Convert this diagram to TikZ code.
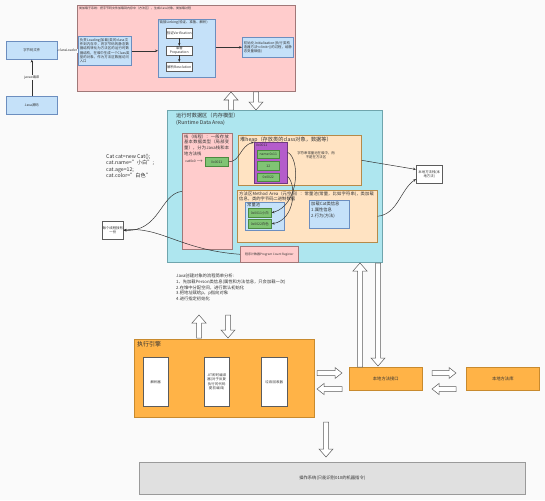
\documentclass[tikz,border=0pt]{standalone}
\usepackage{fontspec}
\setmainfont{Noto Sans CJK SC}
\XeTeXlinebreaklocale "zh"
\XeTeXlinebreakskip=0pt plus 1pt
\usetikzlibrary{arrows.meta}
\definecolor{bgc}{HTML}{FAFAFA}
\definecolor{pinkf}{HTML}{FFCCCC}
\definecolor{pinkd}{HTML}{A07878}
\definecolor{bluef}{HTML}{C5E1F9}
\definecolor{blued}{HTML}{6C8EBF}
\definecolor{cyanf}{HTML}{AEE6EF}
\definecolor{cyand}{HTML}{6FA5AD}
\definecolor{peachf}{HTML}{FFE3C2}
\definecolor{peachd}{HTML}{B58A4A}
\definecolor{purf}{HTML}{B45CCB}
\definecolor{purd}{HTML}{6E3A80}
\definecolor{grnf}{HTML}{80C474}
\definecolor{grnd}{HTML}{4C8A40}
\definecolor{orgf}{HTML}{FFB347}
\definecolor{orgd}{HTML}{C88A2E}
\definecolor{grayf}{HTML}{E0E0E0}
\definecolor{grayd}{HTML}{9A9A9A}
\definecolor{txt}{HTML}{333333}
\newcommand\bx[6]{\node[#1, anchor=north west, inner sep=0pt, minimum width={(#4-#2)*1pt}, minimum height={(#5-#3)*1pt}] (#6) at (#2,#3) {};}
\newcommand\hollowv[3]{\draw[hol] ({#1-2.5},#2) -- ({#1-2.5},{#3-8*sign(#3-#2)}) -- ({#1-7},{#3-8*sign(#3-#2)}) -- (#1,#3) -- ({#1+7},{#3-8*sign(#3-#2)}) -- ({#1+2.5},{#3-8*sign(#3-#2)}) -- ({#1+2.5},#2) -- cycle;}
\newcommand\hollowh[3]{\draw[hol] (#2,{#1-2.5}) -- ({#3-7*sign(#3-#2)},{#1-2.5}) -- ({#3-7*sign(#3-#2)},{#1-5.5}) -- (#3,#1) -- ({#3-7*sign(#3-#2)},{#1+5.5}) -- ({#3-7*sign(#3-#2)},{#1+2.5}) -- (#2,{#1+2.5}) -- cycle;}
\begin{document}
\begin{tikzpicture}[x=1pt,y=-1pt,
  pinkbox/.style={draw=pinkd, fill=pinkf, line width=0.6pt},
  bluebox/.style={draw=blued, fill=bluef, line width=0.6pt},
  whitebox/.style={draw=txt!80, fill=white, line width=0.5pt},
  cyanbox/.style={draw=cyand, fill=cyanf, line width=0.6pt},
  peachbox/.style={draw=peachd, fill=peachf, line width=0.6pt},
  purbox/.style={draw=purd, fill=purf, line width=0.6pt},
  grnbox/.style={draw=grnd, fill=grnf, line width=0.6pt},
  orgbox/.style={draw=orgd, fill=orgf, line width=0.6pt},
  graybox/.style={draw=grayd, fill=grayf, line width=0.6pt},
  hol/.style={draw=txt!80, fill=white, line width=0.5pt},
  conn/.style={draw=txt, line width=0.5pt, -{Stealth[length=3pt,width=2.4pt]}},
  tA/.style={text=txt, inner sep=0pt, font=\fontsize{3.4}{4.3}\selectfont},
  tB/.style={text=txt, inner sep=0pt, font=\fontsize{4.3}{5.6}\selectfont},
  tC/.style={text=txt, inner sep=0pt, font=\fontsize{5.2}{6.4}\selectfont},
  tD/.style={text=txt, inner sep=0pt, font=\fontsize{6}{7.2}\selectfont},
]
\fill[bgc] (0,0) rectangle (545,500);
\useasboundingbox (0,0) rectangle (545,500);

% ---------- class loader subsystem ----------
\bx{bluebox}{6}{41}{57}{59}{bytecode}
\node[tA] at (bytecode.center) {字节码文件};
\bx{bluebox}{6}{96}{57}{114}{javasrc}
\node[tA] at (javasrc.center) {Java源码};
\draw[conn] (javasrc.north) -- node[fill=bgc, tA, inner sep=0.6pt] (lbljavac) {javac编译} (bytecode.south);

\bx{pinkbox}{77}{5}{295}{91}{loader}
\node[tA, anchor=north west, font=\fontsize{3}{4}\selectfont] (loadertitle) at (79,6.5) {类加载子系统：把字节码文件加载到内存中（方法区），生成class对象，类加载过程};

\bx{bluebox}{78}{36}{131}{65}{loadbox}
\node[tA, text width=50pt, align=left] at (loadbox.center) {负责Loading(加载)类的class文件到内存中，将字节码的静态数据结构转化为方法区的运行时数据结构，在堆中生成一个Class类型的对象，作为方法区数据访问入口};
\draw[conn] (bytecode.east) -- node[fill=bgc, tA, inner sep=0.6pt] (lblcl) {classLoader} (loadbox.west);

\bx{bluebox}{158}{19}{215}{77}{linkbox}
\node[tA, anchor=north west, text width=54pt, align=left] at (159.5,20.5) {链接Linking(验证、准备、解析)};
\bx{whitebox}{166}{28}{192}{38}{verify}
\node[tA] at (verify.center) {验证Verification};
\bx{whitebox}{166}{46}{192}{55}{prepare}
\node[tA, align=center] at (prepare.center) {准备\\Preparation};
\bx{whitebox}{166}{62}{192}{71}{resolve}
\node[tA] at (resolve.center) {解析Resolution};
\draw[conn] (verify.south) -- (prepare.north);
\draw[conn] (prepare.south) -- (resolve.north);
\draw[conn] (loadbox.east) -- (linkbox.west |- loadbox.east);

\bx{bluebox}{242}{37}{293}{57}{initbox}
\node[tA, text width=48pt, align=left] at (initbox.center) {初始化Initialization(执行类构造器方法<clinit>()的过程，给静态变量赋值)};
\draw[conn] (linkbox.east |- initbox.west) -- (initbox.west);

\hollowv{231}{110}{92}
\hollowv{256}{92}{110}

% ---------- runtime data area ----------
\bx{cyanbox}{167}{110}{382}{262}{runtime}
\node[tC, anchor=north west, align=left] at (176,113) {运行时数据区（内存模型）\\(Runtime Data Area)};

\bx{pinkbox}{182}{133}{232}{249}{stack}
\node[tB, anchor=north west, text width=47pt, align=left] at (184,134.5) {栈（线程）：一般存放基本数据类型（局部变量），分为Java栈和本地方法栈};
\bx{grnbox}{205}{157}{228}{166}{catnode}
\node[tA] at (catnode.center) {0x0011};
\node[tA, anchor=east] (catlbl) at (203.5,161.5) {cat0x0 $\to$};

\bx{peachbox}{238}{135}{361}{185}{heap}
\node[tC, anchor=north west] at (240,136.5) {堆heap（存放类的class对象，数据等）};
\bx{purbox}{254}{142}{287}{183}{purple}
\node[tA, anchor=north west] at (256,143.5) {0x0011};
\bx{grnbox}{257}{150}{279}{158}{g1}
\node[tA] at (g1.center) {name:0x11};
\bx{grnbox}{257}{161}{279}{170}{g2}
\node[tA] at (g2.center) {12};
\bx{grnbox}{257}{173}{279}{181}{g3}
\node[tA] at (g3.center) {0x0022};
\node[tA, align=center] at (316,155) {字符串常量池在堆中，而\\不是在方法区};

\bx{peachbox}{237}{190}{377}{242}{method}
\node[tB, anchor=north west, text width=136pt, align=left] at (239,191.5) {方法区Method Area（元空间）：常量池(常量，比如字符串)，类加载信息，类的字节码二进制数据};
\bx{bluebox}{245}{202}{284}{230}{cpool}
\node[tB, anchor=north west] at (247,203) {常量池};
\bx{grnbox}{248}{208}{271}{217}{mg1}
\node[tA] at (mg1.center) {0x0011小白};
\bx{grnbox}{248}{219}{271}{228}{mg2}
\node[tA] at (mg2.center) {0x0022白色};
\bx{bluebox}{309}{200}{349}{228}{catinfo}
\node[tB, anchor=north west, align=left] at (311,202) {加载Cat类信息\\1.属性信息\\2.行为(方法)};

\bx{pinkbox}{240}{246}{298}{262}{pc}
\node[tA, font=\fontsize{3}{4}\selectfont] at (pc.center) {程序计数器Program Count Register};

% code and thread box
\node[tC, anchor=north west, align=left] (code) at (106,154) {Cat cat=new Cat();\\cat.name="小白";\\cat.age=12;\\cat.color="白色"};
\bx{whitebox}{102}{221}{123}{239}{thread}
\node[tA, align=center] at (thread.center) {每个线程独有\\一份};

\bx{whitebox}{416}{165}{442}{183}{nstack}
\node[tA, align=center] at (nstack.center) {本地方法栈(本\\地方法)};

% curved connectors
\draw[conn] (catnode.east) .. controls (240,162) and (240,146) .. (purple.north west);
\draw[conn] (purple.32) .. controls (300,158) and (300,205) .. (mg1.east);
\draw[conn] (purple.-39) .. controls (297,185) and (295,220) .. (mg2.east);
\draw[conn] (stack.west) .. controls (160,194) and (160,232) .. (thread.east);
\draw[conn] (pc.west) .. controls (180,250) and (160,226) .. (thread.east);
\draw[conn] (heap.east) -- (nstack.160);
\draw[conn] (method.east) .. controls (398,214) and (400,190) .. (nstack.200);

% analysis text
\node[tB, anchor=north west, align=left] (analysis) at (176,274) {Java创建对象的流程简单分析:\\1、先加载Person类信息(属性和方法信息，只会加载一次)\\2.在堆中分配空间，进行默认初始化\\3.把地址赋给p，p指向对象\\4.进行指定初始化};

\hollowv{199}{338}{315}
\hollowv{228}{315}{338}

% ---------- execution engine ----------
\bx{orgbox}{134}{339}{314}{417}{exec}
\node[tD, anchor=north west] at (137,341) {执行引擎};
\bx{whitebox}{143}{357}{168}{406}{interp}
\node[tA] at (interp.center) {解析器};
\bx{whitebox}{204}{357}{229}{406}{jit}
\node[tA, text width=20pt, align=center] at (jit.center) {JIT即时编译器(对于反复执行的代码提前编译)};
\bx{whitebox}{261}{357}{287}{406}{gc}
\node[tA, text width=20pt, align=center] at (gc.center) {垃圾回收器};

\bx{orgbox}{349}{367}{422}{390}{nif}
\node[tB] at (nif.center) {本地方法接口};
\bx{orgbox}{466}{367}{539}{390}{nlib}
\node[tB] at (nlib.center) {本地方法库};

\hollowv{360}{367}{263}
\hollowv{378}{263}{366}
\hollowh{373}{317}{342}
\hollowh{389}{342}{317}
\hollowh{373}{432}{456}
\hollowh{389}{456}{432}
\hollowv{326}{422}{457}

\bx{graybox}{139}{462}{525}{494}{os}
\node[tB] at (os.center) {操作系统(只能识别010的机器指令)};
\end{tikzpicture}
\end{document}
